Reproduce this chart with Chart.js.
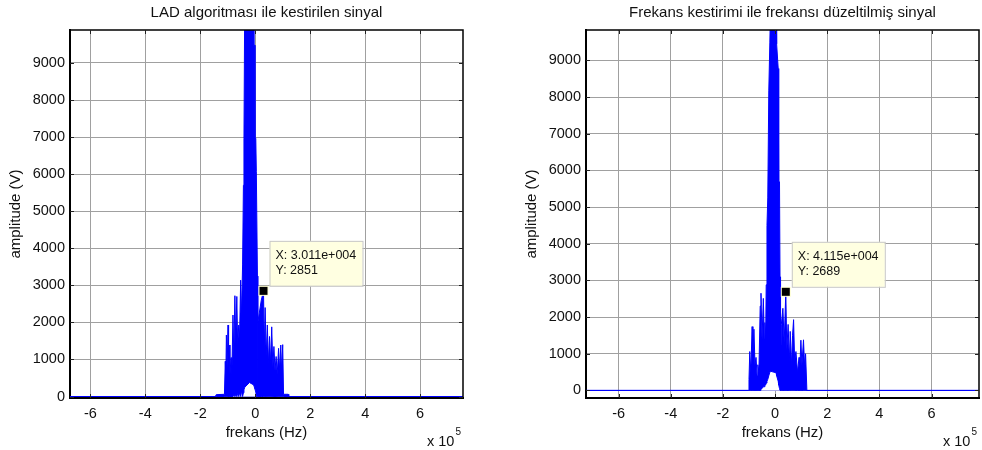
<!DOCTYPE html>
<html>
<head>
<meta charset="utf-8">
<script src="https://cdn.jsdelivr.net/npm/chart.js@4.4.1/dist/chart.umd.min.js"></script>
<style>
  body { margin: 0; background: #fff; }
  #wrap { position: relative; width: 982px; height: 450px; }
  canvas { position: absolute; top: 0; }
</style>
</head>
<body>
<div id="wrap">
  <canvas id="left" width="491" height="450" style="left:0"></canvas>
  <canvas id="right" width="491" height="450" style="left:491px"></canvas>
</div>
<script>
// frequency in Hz, amplitude in V (upper / lower edge of the dense spectrum)
const freqLeft = [-675000, -145000, -142000, -112000, -109000, -107000, -105000, -102000, -99000, -97000,
  -95000, -92000, -88000, -85000, -81000, -78000, -74000, -71000, -67000, -64000,
  -60000, -57000, -53000, -50000, -46000, -43000, -41000, -38000, -21000, -7000,
  -5000, -2000, -1000, 2000, 4000, 8000, 9000, 10000, 22000, 30110,
  33000, 36000, 40000, 44000, 48000, 52000, 56000, 60000, 64000, 68000,
  72000, 76000, 80000, 85000, 89000, 93000, 96000, 100000, 103000, 120000,
  122000, 755000];
const upperLeft = [0, 0, 50, 60, 950, 500, 1660, 800, 1930, 800,
  1390, 600, 1050, 600, 2200, 1100, 2720, 1500, 2700, 1400,
  1930, 1600, 3140, 2200, 3550, 5700, 6970, 11000, 11000, 11000,
  9480, 9480, 6970, 6970, 6065, 3250, 300, 2000, 2600, 2851,
  1300, 2400, 1100, 1930, 900, 1620, 900, 1880, 800, 1350,
  700, 1080, 600, 1300, 700, 1390, 700, 1400, 60, 60,
  0, 0];
const lowerLeft = [0, 0, 0, 0, 0, 0, 0, 0, 0, 0,
  0, 0, 0, 0, 0, 50, 0, 50, 0, 80,
  0, 100, 0, 150, 0, 100, 180, 250, 377, 320,
  300, 220, 200, 120, 0, 0, 0, 0, 0, 0,
  0, 0, 0, 0, 0, 0, 0, 0, 0, 0,
  0, 0, 0, 0, 0, 0, 0, 0, 0, 0,
  0, 0];
const tipLeft = [30110, 2851];

const freqRight = [-725000, -102000, -100000, -97000, -93000, -88000, -85000, -81000, -77000, -73000,
  -69000, -66000, -62000, -57000, -54000, -50000, -45000, -41000, -39000, -36000,
  -34000, -31000, -28000, -24000, -20000, -16000, 4000, 6000, 12000, 14000,
  17000, 19000, 21000, 24000, 30000, 35000, 41150, 45000, 50000, 55000,
  58000, 63000, 67000, 71000, 75000, 80000, 86000, 92000, 95000, 99000,
  103000, 109000, 113000, 117000, 122000, 782000];
const upperRight = [0, 0, 300, 1060, 500, 1740, 1000, 1670, 700, 900,
  400, 700, 500, 2300, 2650, 1400, 2510, 1400, 1850, 1500,
  2880, 4500, 5250, 8190, 9500, 11000, 11000, 9450, 8780, 5690,
  5690, 3100, 300, 1800, 2240, 1300, 2689, 1100, 1800, 800,
  1610, 700, 1500, 1930, 800, 1060, 500, 900, 600, 1370,
  700, 1380, 700, 1000, 0, 0];
const lowerRight = [0, 0, 0, 0, 0, 0, 0, 0, 0, 0,
  0, 0, 0, 0, 50, 50, 100, 100, 150, 150,
  200, 250, 300, 400, 500, 520, 480, 400, 250, 150,
  50, 0, 0, 0, 0, 0, 0, 0, 0, 0,
  0, 0, 0, 0, 0, 0, 0, 0, 0, 0,
  0, 0, 0, 0, 0, 0];
const tipRight = [41150, 2689];

const xTicks = [-600000, -400000, -200000, 0, 200000, 400000, 600000];
const yTicks = [0, 1000, 2000, 3000, 4000, 5000, 6000, 7000, 8000, 9000];

const BLUE = "#0000ff";
const FONT = "'Liberation Sans', Arial, sans-serif";

// MATLAB style extras: full box, inner ticks, title, exponent, data tip
const decor = {
  id: "decor",
  afterDraw(chart, args, opts) {
    const { ctx, chartArea: a } = chart;
    const x = chart.scales.x, y = chart.scales.y;
    ctx.save();
    ctx.strokeStyle = "#000";
    ctx.lineWidth = 1.5;
    ctx.beginPath();
    ctx.moveTo(a.left, a.top);
    ctx.lineTo(a.right, a.top);
    ctx.lineTo(a.right, a.bottom);
    ctx.stroke();

    ctx.lineWidth = 1;
    ctx.strokeStyle = "#222";
    ctx.beginPath();
    x.ticks.forEach(t => {
      const px = Math.round(x.getPixelForValue(t.value)) + 0.5;
      ctx.moveTo(px, a.bottom); ctx.lineTo(px, a.bottom - 4);
      ctx.moveTo(px, a.top); ctx.lineTo(px, a.top + 4);
    });
    y.ticks.forEach(t => {
      const py = Math.round(y.getPixelForValue(t.value)) + 0.5;
      ctx.moveTo(a.left, py); ctx.lineTo(a.left + 4, py);
      ctx.moveTo(a.right, py); ctx.lineTo(a.right - 4, py);
    });
    ctx.stroke();

    ctx.fillStyle = "#111";
    ctx.font = "15px " + FONT;
    ctx.textAlign = "center";
    ctx.textBaseline = "middle";
    ctx.fillText(opts.title, (a.left + a.right) / 2, 13);

    ctx.textAlign = "left";
    ctx.font = "14.5px " + FONT;
    ctx.fillText("x 10", a.right - 36, 442);
    ctx.font = "10px " + FONT;
    ctx.fillText("5", a.right - 7.5, 432);

    // data tip
    const tip = opts.tip;
    const mx = x.getPixelForValue(tip[0]);
    const my = y.getPixelForValue(tip[1]);
    const bx = mx + 6, by = my - 5 - 45;
    ctx.fillStyle = "#ffffe1";
    ctx.fillRect(bx, by, 93, 45);
    ctx.strokeStyle = "#c8c8c8";
    ctx.lineWidth = 1;
    ctx.strokeRect(bx + 0.5, by + 0.5, 93, 45);
    ctx.fillStyle = "#111";
    ctx.font = "12.5px " + FONT;
    const exp = tip[0].toExponential(3).split("e");
    const e = Number(exp[1]);
    const xs = exp[0] + "e" + (e < 0 ? "-" : "+") + String(Math.abs(e)).padStart(3, "0");
    ctx.fillText("X: " + xs, bx + 6, by + 15);
    ctx.fillText("Y: " + tip[1], bx + 6, by + 30);
    ctx.fillStyle = "#ffffd0";
    ctx.fillRect(mx - 5, my - 5, 10, 10);
    ctx.fillStyle = "#000";
    ctx.fillRect(mx - 4, my - 4, 8, 8);
    ctx.restore();
  },
};

function renderSpectrum(canvasId, freq, upper, lower, xMin, xMax, yMin, yMax, padLeft, padRight, title, tip) {
  const ctx = document.getElementById(canvasId).getContext("2d");

  return new Chart(ctx, {
    type: "line",
    data: {
      datasets: [
        {
          // upper edge, filled down to zero
          data: freq.map((f, i) => ({ x: f, y: upper[i] })),
          borderColor: BLUE,
          backgroundColor: BLUE,
          borderWidth: 1,
          pointRadius: 0,
          fill: { target: { value: 0 } },
          order: 2,
        },
        {
          // lower edge, white underneath (gaps at the bottom)
          data: freq.map((f, i) => ({ x: f, y: lower[i] })),
          borderColor: BLUE,
          backgroundColor: "#ffffff",
          borderWidth: 1,
          pointRadius: 0,
          fill: { target: { value: 0 } },
          order: 1,
        },
      ],
    },
    options: {
      responsive: false,
      animation: false,
      layout: { padding: { left: padLeft, right: padRight, top: 30, bottom: 0 } },
      plugins: {
        legend: { display: false },
        tooltip: { enabled: false },
        decor: { title: title, tip: tip },
      },
      scales: {
        x: {
          type: "linear",
          min: xMin,
          max: xMax,
          afterBuildTicks: s => { s.ticks = xTicks.map(v => ({ value: v })); },
          afterFit: s => { s.height = 52; },
          ticks: {
            autoSkip: false,
            maxRotation: 0,
            padding: 7,
            color: "#111",
            font: { family: FONT, size: 14.5 },
            callback: v => String(v / 1e5),
          },
          grid: { color: "#a0a0a0", drawTicks: false },
          border: { color: "#000", width: 2 },
          title: {
            display: true,
            text: "frekans (Hz)",
            color: "#111",
            font: { family: FONT, size: 15 },
            padding: { top: 0, bottom: 8 },
          },
        },
        y: {
          min: yMin,
          max: yMax,
          afterBuildTicks: s => { s.ticks = yTicks.map(v => ({ value: v })); },
          afterFit: s => { s.width = 70; },
          ticks: {
            autoSkip: false,
            padding: 5,
            color: "#111",
            font: { family: FONT, size: 14.5 },
            callback: v => String(v),
          },
          grid: { color: "#a0a0a0", drawTicks: false },
          border: { color: "#000", width: 2 },
          title: {
            display: true,
            text: "amplitude (V)",
            color: "#111",
            font: { family: FONT, size: 15 },
            padding: { top: 7, bottom: 0 },
          },
        },
      },
    },
    plugins: [decor],
  });
}

renderSpectrum("left", freqLeft, upperLeft, lowerLeft, -674000, 756000, -40, 9890, 0, 28,
  "LAD algoritması ile kestirilen sinyal", tipLeft);
renderSpectrum("right", freqRight, upperRight, lowerRight, -725000, 782000, -207, 9830, 25, 3,
  "Frekans kestirimi ile frekansı düzeltilmiş sinyal", tipRight);
</script>
</body>
</html>
